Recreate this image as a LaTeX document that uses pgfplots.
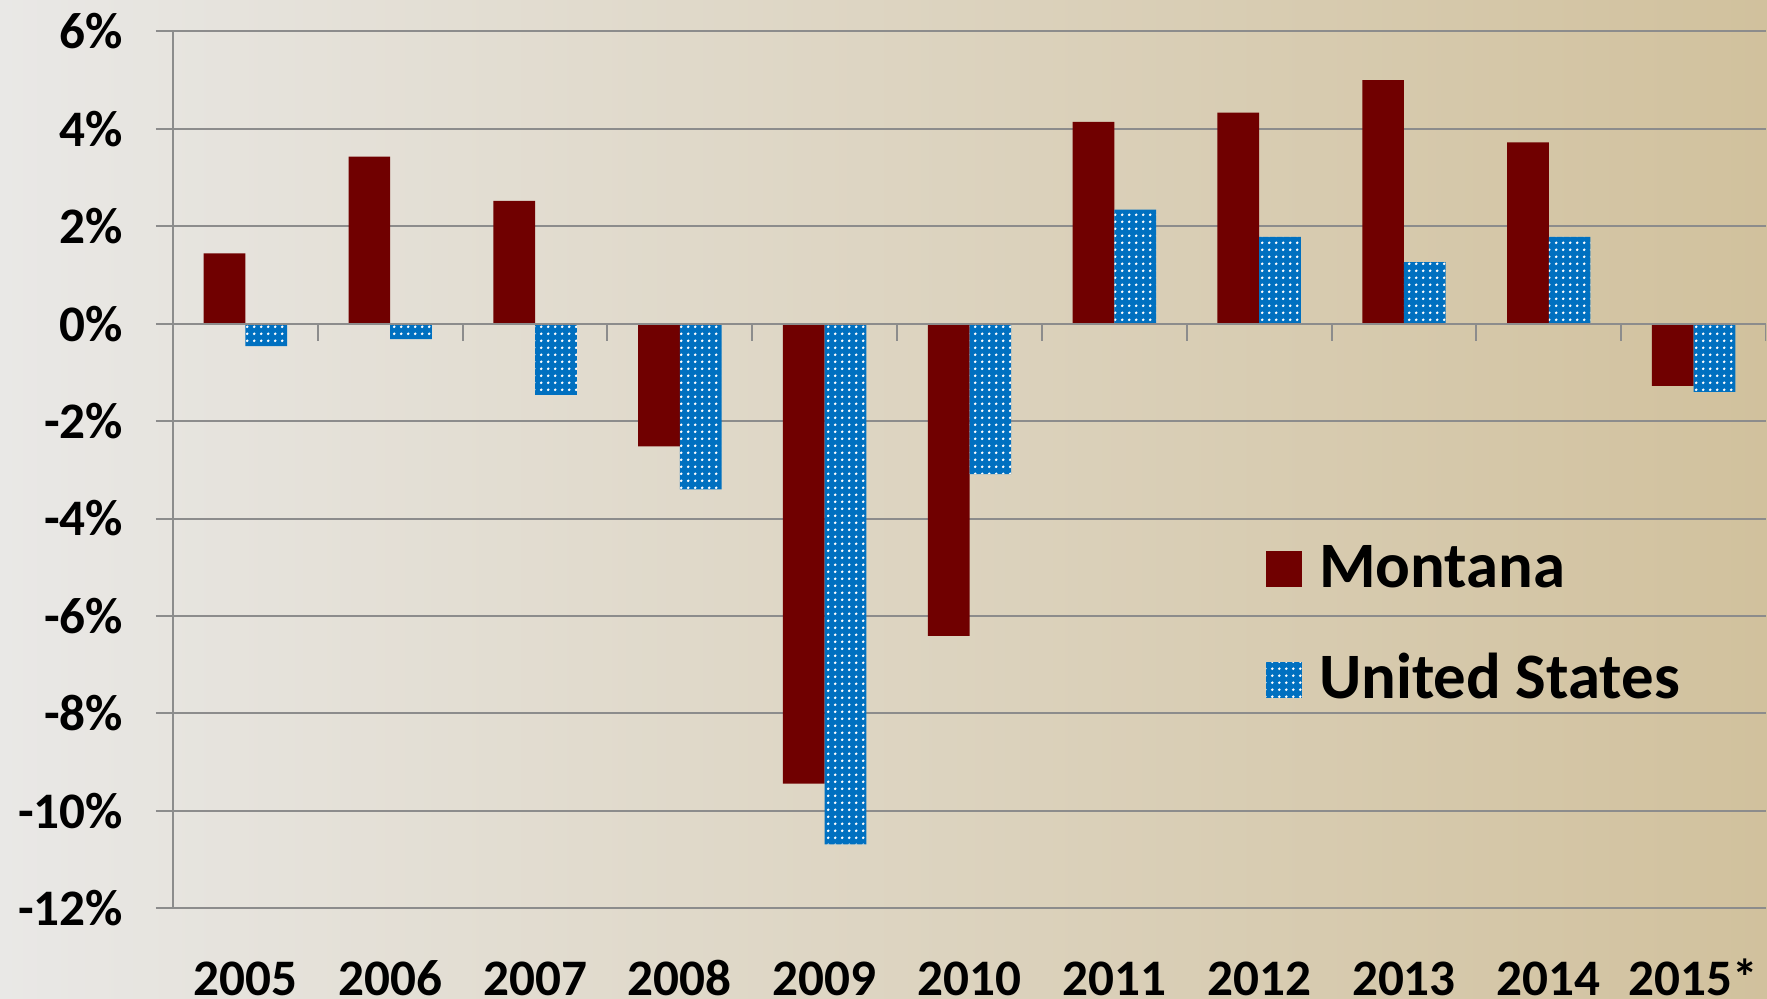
\documentclass[border=0pt]{standalone}
\usepackage{pgfplots}
\usepackage{pgfplotstable}
\pgfplotsset{compat=1.18}
\usepackage{fontspec}
\setmainfont{Carlito}
\usetikzlibrary{patterns.meta}
\definecolor{mtred}{RGB}{112,0,0}
\definecolor{usblue}{RGB}{0,112,192}
\definecolor{gridgray}{RGB}{140,140,140}
\definecolor{bgleft}{RGB}{233,232,230}
\definecolor{bgright}{RGB}{209,193,157}

\pgfplotstableread{
x mt us
0.5 1.44 -0.46
1.5 3.43 -0.32
2.5 2.52 -1.46
3.5 -2.52 -3.40
4.5 -9.44 -10.69
5.5 -6.41 -3.09
6.5 4.14 2.34
7.5 4.33 1.78
8.5 5.00 1.26
9.5 3.72 1.78
10.5 -1.28 -1.40
}\datatable

\begin{document}
\begin{tikzpicture}
\useasboundingbox (0pt,0pt) rectangle (883.5pt,499pt);
\shade[left color=bgleft,right color=bgright] (0pt,0pt) rectangle (883.5pt,499pt);
\begin{axis}[
  at={(86.5pt,44.85pt)}, anchor=south west,
  scale only axis, width=796.5pt, height=438.5pt,
  xmin=0, xmax=11, ymin=-12, ymax=6,
  axis x line*=bottom, axis y line*=left,
  axis line style={gridgray, line width=1pt},
  ytick={-12,-10,...,6},
  yticklabels={-12\%,-10\%,-8\%,-6\%,-4\%,-2\%,0\%,2\%,4\%,6\%},
  xtick={0.5,1.5,...,10.5},
  xticklabels={2005,2006,2007,2008,2009,2010,2011,2012,2013,2014,2015*},
  xtick style={draw=none},
  ytick style={gridgray, line width=1pt},
  tick align=outside, major tick length=8.5pt,
  ymajorgrids, grid style={gridgray, line width=1pt},
  tick label style={font=\fontsize{25.6}{30}\selectfont\bfseries},
  yticklabel style={anchor=east, inner sep=0pt, xshift=-16.3pt},
  xticklabel style={anchor=base, inner sep=0pt, yshift=-34.85pt},
  legend style={at={(0.686,0.4165)}, anchor=north west, draw=none, fill=none,
    inner sep=0pt, outer sep=0pt, row sep=27.5pt,
    font=\fontsize{32.4}{38}\selectfont\bfseries,
    nodes={inner xsep=5pt, inner ysep=0pt, text height=22pt, text depth=6pt}},
  legend cell align=left,
  sqlegend/.style={legend image code/.code={\fill[##1] (0pt,-8pt) rectangle (18pt,10pt); \path (21.65pt,0pt);}},
]
\addplot[ybar, bar width=0.288, bar shift=-0.144, fill=mtred, draw=none, sqlegend]
  table[x=x,y=mt]{\datatable};
\addplot[ybar, bar width=0.288, bar shift=0.144, fill=usblue, draw=none,
  postaction={pattern={Dots[distance=3.35pt,radius=0.75pt]}, pattern color=white}, sqlegend]
  table[x=x,y=us]{\datatable};
\legend{Montana, United States}
\draw[gridgray, line width=1pt] (axis cs:0,0) -- (axis cs:11,0);
\pgfplotsinvokeforeach{0,1,2,3,4,5,6,7,8,9,10,11}{
  \draw[gridgray, line width=1pt] (axis cs:#1,0) -- ++(0pt,-8.5pt);
}
\end{axis}
\end{tikzpicture}
\end{document}
